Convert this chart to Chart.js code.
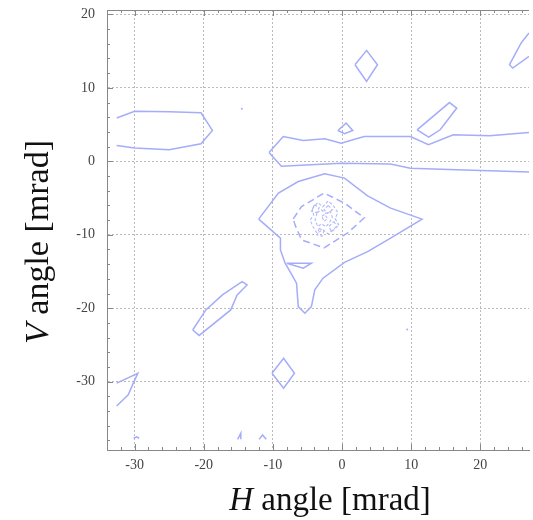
<!DOCTYPE html>
<html><head><meta charset="utf-8">
<script src="https://cdn.jsdelivr.net/npm/chart.js@4/dist/chart.umd.min.js"></script>
<style>html,body{margin:0;padding:0;background:#fff;overflow:hidden}</style>
</head><body>
<canvas id="c" width="533" height="520" style="width:533px;height:520px;display:block"></canvas>
<script>
// ---- axis definitions ----
const xTickValues = [-30, -20, -10, 0, 10, 20];
const yTickValues = [-30, -20, -10, 0, 10, 20];
const xRange = [-34.0, 27.05];
const yRange = [-39.3, 20.6];
const xTitleItalic = 'H', xTitleRest = ' angle [mrad]';
const yTitleItalic = 'V', yTitleRest = ' angle [mrad]';

// ---- contour lines (H, V) in mrad ----
const contourLeftBand = [[-32.6,5.9],[-30.0,6.8],[-25.0,6.74],[-20.4,6.6],[-18.75,4.2],[-20.4,2.4],[-25.0,1.57],[-30.0,1.8],[-32.6,2.15]];
const contourLongBandTop = [[27.05,3.92],[21.36,3.47],[16.1,3.6],[12.5,2.25],[9.9,3.38],[3.2,3.38],[-0.13,2.48],[-2.5,3.07],[-5.6,2.83],[-8.5,3.38],[-10.56,1.19]];
const contourLongBandBottom = [[-10.56,1.19],[-8.77,-0.68],[-0.13,-0.25],[7.0,-0.38],[9.9,-0.93],[16.6,-1.16],[21.36,-1.29],[27.05,-1.47]];
const contourSmallDiamond = [[-0.6,4.2],[0.59,5.2],[1.55,4.2],[0.36,3.75],[-0.6,4.2]];
const contourUpperDiamond = [[1.88,13.15],[3.55,15.1],[5.13,13.15],[3.55,10.87],[1.88,13.15]];
const contourRightSliver = [[10.86,4.29],[15.54,8.0],[16.6,7.25],[14.2,4.29],[12.54,3.3],[10.86,4.29]];
const contourTopRight = [[27.05,17.47],[25.9,16.1],[24.23,13.15],[24.7,12.7],[27.05,14.28]];
const contourCentral = [[-12.06,-7.87],[-9.2,-4.33],[-6.33,-2.75],[-2.5,-1.7],[0.36,-2.29],[3.7,-4.7],[7.03,-6.38],[11.58,-7.87],[7.03,-10.46],[3.7,-12.29],[0.36,-13.76],[-2.75,-15.91],[-3.94,-17.5],[-4.43,-19.78],[-5.37,-20.68],[-6.33,-19.78],[-6.58,-16.6],[-8.24,-13.83],[-8.91,-12.06],[-8.91,-10.46],[-12.06,-7.87]];
const contourTriangle = [[-8.0,-13.87],[-4.43,-13.87],[-5.6,-14.55],[-8.0,-13.87]];
const contourCoreDashed = [[-7.05,-7.83],[-5.86,-6.16],[-2.6,-4.33],[0.36,-5.69],[3.22,-7.7],[0.83,-9.74],[-2.6,-11.78],[-5.86,-10.69],[-6.8,-8.65],[-7.05,-7.83]];
const contourPeakA = [[-4.3,-6.5],[-3.5,-5.6],[-2.8,-6.2],[-2.0,-5.4],[-1.2,-6.1],[-0.6,-7.0],[-1.0,-7.8],[-0.5,-8.6],[-1.3,-9.3],[-2.0,-9.9],[-2.8,-9.3],[-3.6,-9.8],[-4.2,-8.9],[-4.6,-8.0],[-4.1,-7.3],[-4.3,-6.5]];
const contourPeakB = [[-3.6,-7.0],[-3.0,-6.6],[-2.4,-7.1],[-1.7,-6.8],[-1.4,-7.6],[-1.8,-8.3],[-2.3,-8.9],[-3.0,-8.5],[-3.5,-8.9],[-3.9,-8.0],[-3.6,-7.0]];
const contourPeakC = [[-2.9,-7.5],[-2.5,-7.2],[-2.1,-7.8],[-2.6,-8.2],[-2.9,-7.5]];
const contourPeakD = [[-4.0,-5.9],[-3.3,-6.3],[-3.7,-7.0],[-4.4,-6.8],[-4.0,-5.9]];
const contourPeakE = [[-1.2,-8.2],[-0.7,-8.9],[-1.5,-9.6],[-1.9,-8.9],[-1.2,-8.2]];
const contourPeakF = [[-3.3,-9.1],[-2.6,-9.5],[-2.9,-10.2],[-3.6,-10.0],[-3.3,-9.1]];
const contourPeakG = [[-2.0,-6.0],[-1.4,-6.6],[-2.1,-7.1],[-2.6,-6.6],[-2.0,-6.0]];
const contourLowerLeft = [[-21.6,-22.96],[-20.66,-23.7],[-16.1,-20.23],[-15.17,-18.19],[-13.74,-16.83],[-14.46,-16.38],[-17.3,-18.19],[-19.7,-20.23],[-21.6,-22.96]];
const contourLowDiamond = [[-10.13,-28.86],[-8.45,-26.81],[-6.88,-28.86],[-8.45,-30.9],[-10.13,-28.86]];
const contourLeftEdge = [[-32.6,-30.2],[-29.54,-28.86],[-30.2,-30.2],[-30.93,-31.8],[-32.6,-33.3]];
const contourBottomA = [[-30.16,-37.7],[-29.7,-37.5],[-29.35,-37.7]];
const contourBottomB = [[-15.1,-37.85],[-14.64,-37.0],[-14.64,-37.85]];
const contourBottomC = [[-12.0,-37.85],[-11.5,-37.26],[-10.96,-37.85]];
const isolatedDots = [[-14.5,7.15],[9.43,-22.9]];

const solidContours = [contourLeftBand, contourLongBandTop, contourLongBandBottom, contourSmallDiamond, contourUpperDiamond, contourRightSliver, contourTopRight, contourCentral, contourTriangle, contourLowerLeft, contourLowDiamond, contourLeftEdge, contourBottomA, contourBottomB, contourBottomC];
const dashedContours = [contourCoreDashed];
const peakContours = [contourPeakA, contourPeakB, contourPeakC, contourPeakD, contourPeakE, contourPeakF, contourPeakG];

// ---- styles ----
const LINE = 'rgb(165,172,250)';
const toXY = arr => arr.map(p => ({x: p[0], y: p[1]}));
const datasets = [];
solidContours.forEach(c => datasets.push({data: toXY(c), showLine: true, pointRadius: 0, borderColor: LINE, borderWidth: 1.5, fill: false}));
dashedContours.forEach(c => datasets.push({data: toXY(c), showLine: true, pointRadius: 0, borderColor: LINE, borderWidth: 1.5, borderDash: [7, 4], fill: false}));
peakContours.forEach(c => datasets.push({data: toXY(c), showLine: true, pointRadius: 0, borderColor: 'rgb(178,184,250)', borderWidth: 1.1, borderDash: [3, 2], fill: false}));
datasets.push({data: toXY(isolatedDots), showLine: false, pointRadius: 1, pointBorderWidth: 0, pointBackgroundColor: LINE});

const SERIF = '"Liberation Serif","DejaVu Serif",serif';

const framePlugin = {
  id: 'frame',
  afterDraw(chart) {
    const {ctx, chartArea: a, scales: {x, y}} = chart;
    ctx.save();
    ctx.strokeStyle = '#888';
    ctx.lineWidth = 1;
    ctx.beginPath();
    ctx.moveTo(a.left, a.top + 0.5); ctx.lineTo(a.right, a.top + 0.5);
    for (let v = -38; v <= 20; v += 2) {
      const p = Math.round(y.getPixelForValue(v)) + 0.5;
      const len = v % 10 === 0 ? 6 : 3;
      ctx.moveTo(a.left, p); ctx.lineTo(a.left + len, p);
    }
    for (let v = -34; v <= 26; v += 2) {
      const p = Math.round(x.getPixelForValue(v)) + 0.5;
      const len = v % 10 === 0 ? 6 : 3;
      ctx.moveTo(p, a.bottom); ctx.lineTo(p, a.bottom - len);
      ctx.moveTo(p, a.top); ctx.lineTo(p, a.top + len);
    }
    ctx.stroke();
    // axis titles (italic variable + upright rest)
    ctx.fillStyle = '#111';
    ctx.textBaseline = 'alphabetic';
    let fi = 'italic 33px ' + SERIF, fn = '33px ' + SERIF;
    ctx.font = fi; const wi = ctx.measureText(xTitleItalic).width;
    ctx.font = fn; const wr = ctx.measureText(xTitleRest).width;
    const sx = 330 - (wi + wr) / 2;
    ctx.font = fi; ctx.fillText(xTitleItalic, sx, 510);
    ctx.font = fn; ctx.fillText(xTitleRest, sx + wi, 510);
    fi = 'italic 34px ' + SERIF; fn = '34px ' + SERIF;
    ctx.font = fi; const vi = ctx.measureText(yTitleItalic).width;
    ctx.font = fn; const vr = ctx.measureText(yTitleRest).width;
    ctx.translate(48, 242);
    ctx.rotate(-Math.PI / 2);
    const sy = -(vi + vr) / 2;
    ctx.font = fi; ctx.fillText(yTitleItalic, sy, 0);
    ctx.font = fn; ctx.fillText(yTitleRest, sy + vi, 0);
    ctx.restore();
  }
};

new Chart(document.getElementById('c'), {
  type: 'scatter',
  data: {datasets},
  plugins: [framePlugin],
  options: {
    responsive: false,
    animation: false,
    devicePixelRatio: 1,
    layout: {padding: {top: 10, right: 0, left: 0, bottom: 0}},
    plugins: {legend: {display: false}, tooltip: {enabled: false}},
    scales: {
      x: {
        type: 'linear', min: xRange[0], max: xRange[1],
        afterFit: s => { s.height = 70; s.paddingLeft = 0; s.paddingRight = 0; },
        afterBuildTicks: s => { s.ticks = xTickValues.map(v => ({value: v})); },
        ticks: {includeBounds: false, padding: 7, color: '#444', font: {family: SERIF, size: 14}, maxRotation: 0},
        grid: {color: '#bbb', lineWidth: 1, drawTicks: false},
        border: {display: true, color: '#888', width: 1, dash: [2, 2]}
      },
      y: {
        type: 'linear', min: yRange[0], max: yRange[1],
        afterFit: s => { s.width = 107; s.paddingTop = 0; s.paddingBottom = 0; },
        afterBuildTicks: s => { s.ticks = yTickValues.map(v => ({value: v})); },
        ticks: {includeBounds: false, padding: 12, color: '#444', font: {family: SERIF, size: 14}},
        grid: {color: '#bbb', lineWidth: 1, drawTicks: false},
        border: {display: true, color: '#888', width: 1, dash: [2, 2]}
      }
    }
  }
});
</script>
</body></html>
